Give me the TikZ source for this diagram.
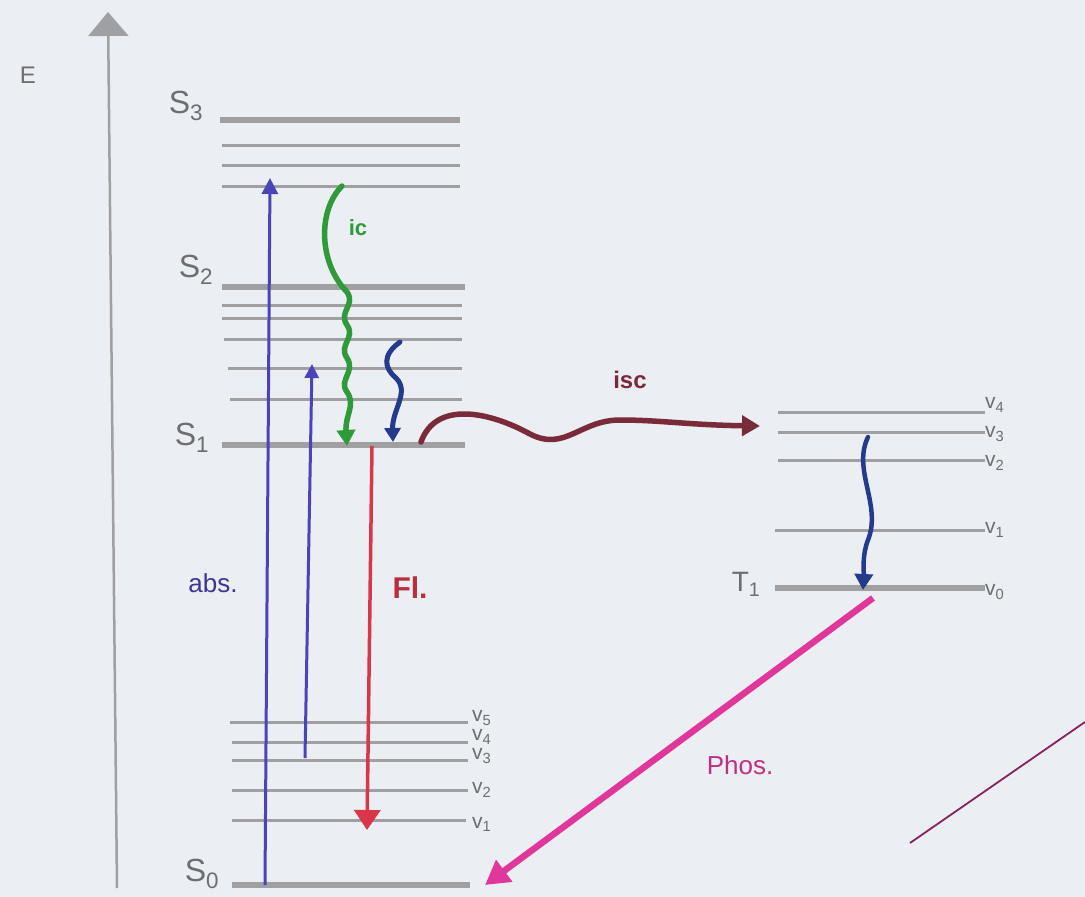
\documentclass[tikz,border=0pt]{standalone}
\usepackage{fontspec}
\setmainfont{Liberation Sans}
\usetikzlibrary{arrows.meta}
\definecolor{paper}{HTML}{EBEEF2}
\definecolor{lvl}{HTML}{A0A0A2}
\definecolor{absblue}{HTML}{4B43B8}
\definecolor{icgreen}{HTML}{2E9A3A}
\definecolor{vrblue}{HTML}{243A8C}
\definecolor{flred}{HTML}{D8374A}
\definecolor{iscred}{HTML}{7A2B3A}
\definecolor{phos}{HTML}{E0389A}
\definecolor{lbl}{HTML}{6E6E70}
\begin{document}
\begin{tikzpicture}[x=1pt,y=-1pt,
  level/.style={draw=lvl,line width=3pt},
  mainlevel/.style={draw=lvl,line width=5.5pt},
  statelbl/.style={text=lbl,font=\fontsize{32}{32}\selectfont,inner sep=0pt},
  vlbl/.style={text=lbl,font=\fontsize{21}{21}\selectfont,inner sep=0pt,anchor=west},
  bigtip/.style={-{Triangle[length=16pt,width=16pt]}}]
\fill[paper] (0,0) rectangle (1085,897);
\useasboundingbox (0,0) rectangle (1085,897);

% energy axis
\coordinate (ax0) at (117,888);
\coordinate (ax1) at (108,12);
\draw[lvl,line width=2.5pt,-{Triangle[length=24pt,width=40pt]}] (ax0) -- (ax1);
\node[statelbl,font=\fontsize{24}{24}\selectfont] (E) at (28,75) {E};

% S3 manifold
\draw[mainlevel] (220,120) -- (460,120);
\draw[level] (222,145) -- (460,145);
\draw[level] (222,165) -- (460,165);
\draw[level] (222,186) -- (460,186);
\node[statelbl] (S3) at (186,106) {S\textsubscript{3}};

% S2 manifold and S1
\draw[mainlevel] (222,287) -- (465,287);
\draw[level] (222,305) -- (462,305);
\draw[level] (222,318) -- (462,318);
\draw[level] (224,339) -- (462,339);
\draw[level] (228,368) -- (462,368);
\draw[level] (230,399) -- (462,399);
\draw[mainlevel] (222,445) -- (465,445);
\node[statelbl] (S2) at (196,270) {S\textsubscript{2}};
\node[statelbl] (S1) at (192,438) {S\textsubscript{1}};

% S0 manifold
\draw[level] (230,722) -- (468,722);
\draw[level] (232,742) -- (468,742);
\draw[level] (232,760) -- (468,760);
\draw[level] (232,790) -- (468,790);
\draw[level] (232,820) -- (466,820);
\draw[mainlevel] (232,885) -- (470,885);
\node[statelbl] (S0) at (202,874) {S\textsubscript{0}};
\node[vlbl] (a5) at (472,718) {v\textsubscript{5}};
\node[vlbl] (a4) at (472,737) {v\textsubscript{4}};
\node[vlbl] (a3) at (472,756) {v\textsubscript{3}};
\node[vlbl] (a2) at (472,790) {v\textsubscript{2}};
\node[vlbl] (a1) at (472,824) {v\textsubscript{1}};

% T1 manifold
\draw[level] (778,412) -- (985,412);
\draw[level] (778,432) -- (985,432);
\draw[level] (778,460) -- (985,460);
\draw[level] (775,530) -- (985,530);
\draw[mainlevel] (775,588) -- (985,588);
\node[statelbl,font=\fontsize{28}{28}\selectfont] (T1) at (746,584) {T\textsubscript{1}};
\node[vlbl] (t4) at (985,405) {v\textsubscript{4}};
\node[vlbl] (t3) at (985,434) {v\textsubscript{3}};
\node[vlbl] (t2) at (985,463) {v\textsubscript{2}};
\node[vlbl] (t1) at (985,530) {v\textsubscript{1}};
\node[vlbl] (t0) at (985,592) {v\textsubscript{0}};

% absorption
\coordinate (abs1a) at (265,885);
\coordinate (abs1b) at (270,178);
\coordinate (abs2a) at (305,758);
\coordinate (abs2b) at (312,364);
\draw[absblue,line width=3pt,bigtip] (abs1a) -- (abs1b);
\draw[absblue,line width=3pt,-{Triangle[length=14pt,width=14pt]}] (abs2a) -- (abs2b);
\node[text=absblue!80!black,font=\fontsize{26}{26}\selectfont,inner sep=0pt] (abs) at (213,583) {abs.};

% internal conversion
\coordinate (ic0) at (342,186);
\coordinate (ic1) at (347,446);
\draw[icgreen,line width=5.5pt,line cap=round,-{Triangle[length=16pt,width=18pt]}]
  (ic0) .. controls (318,210) and (318,262) .. (347,292)
  .. controls (356,305) and (338,312) .. (347,325)
  .. controls (356,338) and (338,345) .. (347,358)
  .. controls (356,372) and (338,380) .. (347,392)
  .. controls (356,405) and (345,415) .. (ic1);
\node[text=icgreen,font=\bfseries\fontsize{22}{22}\selectfont,inner sep=0pt] (ic) at (358,228) {ic};

% vibrational relaxation in S1
\coordinate (vr0) at (400,342);
\coordinate (vr1) at (393,442);
\draw[vrblue,line width=5pt,line cap=round,-{Triangle[length=14pt,width=16pt]}]
  (vr0) .. controls (382,355) and (384,368) .. (396,378)
  .. controls (410,392) and (392,410) .. (vr1);

% fluorescence
\coordinate (fl0) at (372,446);
\coordinate (fl1) at (367,830);
\draw[flred,line width=3.5pt,-{Triangle[length=20pt,width=26pt]}] (fl0) -- (fl1);
\node[text=flred!85!black,font=\bfseries\fontsize{30}{30}\selectfont,inner sep=0pt] (Fl) at (410,588) {Fl.};

% intersystem crossing
\coordinate (isc0) at (421,442);
\coordinate (isc1) at (760,426);
\draw[iscred,line width=5.5pt,line cap=round,-{Triangle[length=18pt,width=20pt]}]
  (isc0) .. controls (436,400) and (490,412) .. (530,434)
  .. controls (565,452) and (580,420) .. (620,420)
  .. controls (660,420) and (690,425) .. (isc1);
\node[text=iscred,font=\bfseries\fontsize{24}{24}\selectfont,inner sep=0pt] (isc) at (630,380) {isc};

% vibrational relaxation in T1
\coordinate (tv0) at (868,437);
\coordinate (tv1) at (863,590);
\draw[vrblue,line width=4.5pt,line cap=round,-{Triangle[length=16pt,width=18pt]}]
  (tv0) .. controls (852,470) and (882,505) .. (868,540)
  .. controls (862,555) and (864,570) .. (tv1);

% phosphorescence
\coordinate (ph0) at (873,598);
\coordinate (ph1) at (485,885);
\draw[phos,line width=6.5pt,-{Triangle[length=24pt,width=26pt]}] (ph0) -- (ph1);
\node[text=phos!85!black,font=\fontsize{26}{26}\selectfont,inner sep=0pt] (Phos) at (740,765) {Phos.};

% stray stroke
\coordinate (st0) at (910,843);
\coordinate (st1) at (1085,722);
\draw[phos!60!black,line width=1.8pt] (st0) -- (st1);
\end{tikzpicture}
\end{document}
